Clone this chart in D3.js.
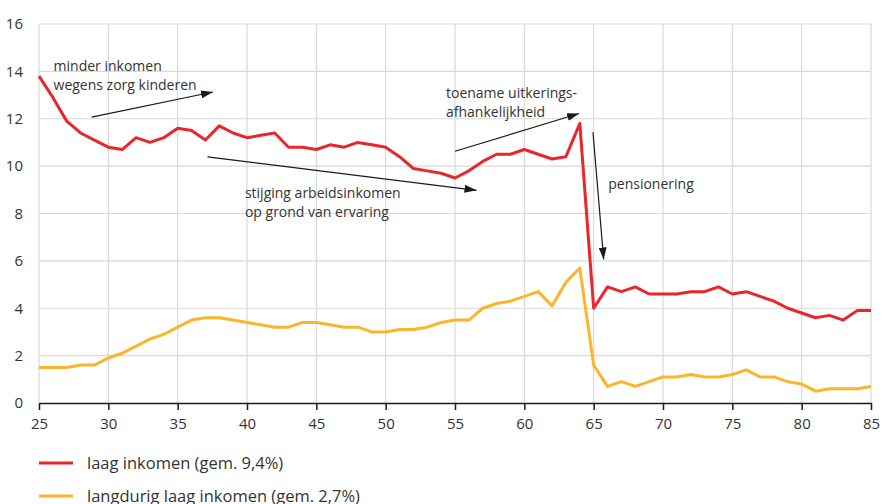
<!DOCTYPE html>
<html>
<head>
<meta charset="utf-8">
<script src="https://cdn.jsdelivr.net/npm/d3@7"></script>
<style>
  body { margin: 0; background: #fff; }
  svg text { font-family: 'Open Sans', 'Noto Sans', sans-serif; fill: #333; }
</style>
</head>
<body>
<div id="chart"></div>
<script>
// leeftijd 25 t/m 85
const ages = d3.range(25, 86);

const laagInkomen = [
  13.8, 12.9, 11.9, 11.4, 11.1, 10.8, 10.7, 11.2, 11.0, 11.2,
  11.6, 11.5, 11.1, 11.7, 11.4, 11.2, 11.3, 11.4, 10.8, 10.8,
  10.7, 10.9, 10.8, 11.0, 10.9, 10.8, 10.4, 9.9, 9.8, 9.7,
  9.5, 9.8, 10.2, 10.5, 10.5, 10.7, 10.5, 10.3, 10.4, 11.8,
  4.0, 4.9, 4.7, 4.9, 4.6, 4.6, 4.6, 4.7, 4.7, 4.9,
  4.6, 4.7, 4.5, 4.3, 4.0, 3.8, 3.6, 3.7, 3.5, 3.9,
  3.9
];

const langdurigLaag = [
  1.5, 1.5, 1.5, 1.6, 1.6, 1.9, 2.1, 2.4, 2.7, 2.9,
  3.2, 3.5, 3.6, 3.6, 3.5, 3.4, 3.3, 3.2, 3.2, 3.4,
  3.4, 3.3, 3.2, 3.2, 3.0, 3.0, 3.1, 3.1, 3.2, 3.4,
  3.5, 3.5, 4.0, 4.2, 4.3, 4.5, 4.7, 4.1, 5.1, 5.7,
  1.6, 0.7, 0.9, 0.7, 0.9, 1.1, 1.1, 1.2, 1.1, 1.1,
  1.2, 1.4, 1.1, 1.1, 0.9, 0.8, 0.5, 0.6, 0.6, 0.6,
  0.7
];

const seriesNames = ['laag inkomen (gem. 9,4%)', 'langdurig laag inkomen (gem. 2,7%)'];
const seriesColors = ['#e8262b', '#fbb52b'];

const xTicks = d3.range(25, 86, 5);
const yTicks = d3.range(0, 17, 2);

// annotaties in data-eenheden (leeftijd, procent)
const annotations = [
  { lines: ['minder inkomen', 'wegens zorg kinderen'], at: [26.05, 14.0],
    from: [28.8, 12.07], to: [37.55, 13.13] },
  { lines: ['stijging arbeidsinkomen', 'op grond van ervaring'], at: [39.85, 8.66],
    from: [37.15, 10.39], to: [56.55, 8.98] },
  { lines: ['toename uitkerings-', 'afhankelijkheid'], at: [54.35, 12.88],
    from: [55.0, 10.63], to: [63.95, 12.22] },
  { lines: ['pensionering'], at: [66.05, 9.05],
    from: [64.95, 11.43], to: [65.72, 6.06] }
];

const svgWidth = 882;
const svgHeight = 504;
const margin = { top: 24, right: 11, bottom: 101, left: 39 };
const width = svgWidth - margin.left - margin.right;
const height = svgHeight - margin.top - margin.bottom;

const svg = d3.select('#chart').append('svg')
  .attr('width', svgWidth)
  .attr('height', svgHeight);

svg.append('defs').append('marker')
  .attr('id', 'arrowHead')
  .attr('viewBox', '0 0 12 8')
  .attr('refX', 12)
  .attr('refY', 4)
  .attr('markerWidth', 12)
  .attr('markerHeight', 8)
  .attr('markerUnits', 'userSpaceOnUse')
  .attr('orient', 'auto')
  .append('path')
  .attr('d', 'M0,0 L12,4 L0,8 Z')
  .attr('fill', '#1a1a1a');

const g = svg.append('g')
  .attr('transform', `translate(${margin.left},${margin.top})`);

const x = d3.scaleLinear().domain([25, 85]).range([0, width]);
const y = d3.scaleLinear().domain([0, 16]).range([height, 0]);

// raster
g.append('g')
  .selectAll('line')
  .data(yTicks.filter(d => d > 0))
  .join('line')
  .attr('x1', 0)
  .attr('x2', width)
  .attr('y1', d => y(d))
  .attr('y2', d => y(d))
  .attr('stroke', '#d9d9d9')
  .attr('stroke-width', 1.2);

g.append('g')
  .selectAll('line')
  .data(xTicks)
  .join('line')
  .attr('x1', d => x(d))
  .attr('x2', d => x(d))
  .attr('y1', 0)
  .attr('y2', height)
  .attr('stroke', '#d9d9d9')
  .attr('stroke-width', 1.2);

// y-as labels
g.append('g')
  .selectAll('text')
  .data(yTicks)
  .join('text')
  .attr('x', -16)
  .attr('y', d => y(d))
  .attr('dy', '0.35em')
  .attr('text-anchor', 'end')
  .style('font-size', '15px')
  .text(d => d);

// x-as
const xAxis = g.append('g')
  .attr('transform', `translate(0,${height})`)
  .call(
    d3.axisBottom(x)
      .tickValues(xTicks)
      .tickSize(7)
      .tickPadding(8)
      .tickSizeOuter(0)
  );

xAxis.select('.domain').attr('stroke', '#1a1a1a').attr('stroke-width', 1.5);
xAxis.selectAll('.tick line').attr('stroke', '#1a1a1a').attr('stroke-width', 1.5);
xAxis.selectAll('.tick text')
  .style('font-size', '15px')
  .style('font-family', "'Open Sans', 'Noto Sans', sans-serif")
  .attr('fill', '#333');

// lijnen
const line = d3.line()
  .x((d, i) => x(ages[i]))
  .y(d => y(d));

[laagInkomen, langdurigLaag].forEach((values, i) => {
  g.append('path')
    .datum(values)
    .attr('fill', 'none')
    .attr('stroke', seriesColors[i])
    .attr('stroke-width', 3)
    .attr('stroke-linejoin', 'round')
    .attr('d', line);
});

// annotaties
annotations.forEach(a => {
  g.append('line')
    .attr('x1', x(a.from[0]))
    .attr('y1', y(a.from[1]))
    .attr('x2', x(a.to[0]))
    .attr('y2', y(a.to[1]))
    .attr('stroke', '#1a1a1a')
    .attr('stroke-width', 1.2)
    .attr('marker-end', 'url(#arrowHead)');

  const t = g.append('text')
    .attr('x', x(a.at[0]))
    .attr('y', y(a.at[1]))
    .style('font-size', '14px');

  a.lines.forEach((l, j) => {
    t.append('tspan')
      .attr('x', x(a.at[0]))
      .attr('dy', j === 0 ? 0 : 19)
      .text(l);
  });
});

// legenda
const legend = svg.append('g')
  .attr('transform', `translate(${margin.left},463)`);

seriesNames.forEach((name, i) => {
  const row = legend.append('g').attr('transform', `translate(0,${i * 33})`);

  row.append('line')
    .attr('x1', 0)
    .attr('x2', 34)
    .attr('stroke', seriesColors[i])
    .attr('stroke-width', 3);

  row.append('text')
    .attr('x', 48)
    .attr('dy', '0.35em')
    .style('font-size', '16.5px')
    .text(name);
});
</script>
</body>
</html>
